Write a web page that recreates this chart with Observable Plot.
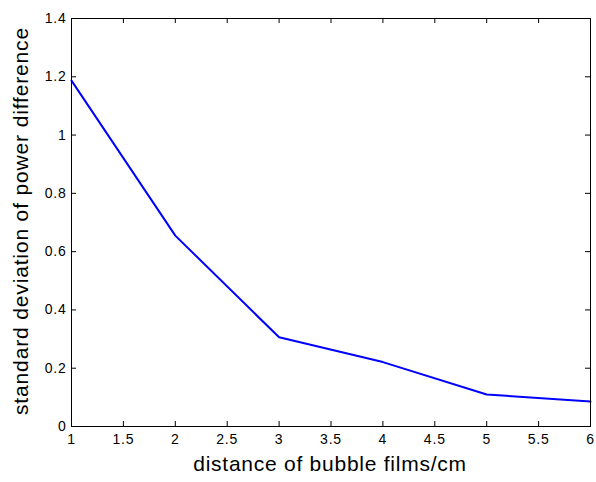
<!DOCTYPE html>
<html>
<head>
<meta charset="utf-8">
<script src="https://cdn.jsdelivr.net/npm/d3@7"></script>
<script src="https://cdn.jsdelivr.net/npm/@observablehq/plot@0.6"></script>
<style>
  html, body { margin: 0; padding: 0; background: #fff; }
  #chart { width: 596px; height: 482px; }
  svg { font-family: Arial, "Liberation Sans", sans-serif; }
</style>
</head>
<body>
<div id="chart"></div>
<script>
const distance = [1, 2, 3, 4, 5, 6];
const stdDev = [1.187, 0.655, 0.306, 0.221, 0.110, 0.086];
const xTicks = [1, 1.5, 2, 2.5, 3, 3.5, 4, 4.5, 5, 5.5, 6];
const yTicks = [0, 0.2, 0.4, 0.6, 0.8, 1, 1.2, 1.4];
const xLabel = "distance of bubble films/cm";
const yLabel = "standard deviation of power difference";

const data = distance.map((d, i) => ({x: d, y: stdDev[i]}));
const W = 596, H = 482, mL = 71, mR = 6, mT = 18, mB = 56;
const innerW = W - mL - mR, innerH = H - mT - mB;
const T = 5;

const plot = Plot.plot({
  width: W,
  height: H,
  marginLeft: mL,
  marginRight: mR,
  marginTop: mT,
  marginBottom: mB,
  style: {fontSize: "14px", fontFamily: "Arial, 'Liberation Sans', sans-serif", color: "#000", background: "#fff"},
  x: {domain: [1, 6]},
  y: {domain: [0, 1.4]},
  marks: [
    Plot.axisX(xTicks, {anchor: "bottom", tickSize: 0, tickPadding: 8, label: null, fontSize: 14, tickFormat: d => String(d)}),
    Plot.axisY(yTicks, {anchor: "left", tickSize: 0, tickPadding: 5, label: null, fontSize: 14, tickFormat: d => String(d)}),
    // inward tick marks on all four sides
    Plot.tickX(xTicks, {x: d => d, insetTop: innerH - T, stroke: "#000"}),
    Plot.tickX(xTicks, {x: d => d, insetBottom: innerH - T, stroke: "#000"}),
    Plot.tickY(yTicks, {y: d => d, insetRight: innerW - T, stroke: "#000"}),
    Plot.tickY(yTicks, {y: d => d, insetLeft: innerW - T, stroke: "#000"}),
    Plot.lineY(data, {x: "x", y: "y", stroke: "#0000ff", strokeWidth: 2}),
    Plot.frame({stroke: "#000", strokeWidth: 1})
  ]
});

const svg = d3.select(plot);
svg.selectAll("g[aria-label='x-axis tick label'] text, g[aria-label='y-axis tick label'] text")
  .style("letter-spacing", "0.8px");
svg.append("text")
  .attr("x", 330).attr("y", 471)
  .attr("text-anchor", "middle")
  .attr("font-size", 21)
  .style("letter-spacing", "0.75px")
  .attr("fill", "#000")
  .text(xLabel);
svg.append("text")
  .attr("transform", "translate(28,221) rotate(-90)")
  .attr("text-anchor", "middle")
  .attr("font-size", 21)
  .style("letter-spacing", "0.85px")
  .attr("fill", "#000")
  .text(yLabel);

document.getElementById("chart").appendChild(plot);
</script>
</body>
</html>
